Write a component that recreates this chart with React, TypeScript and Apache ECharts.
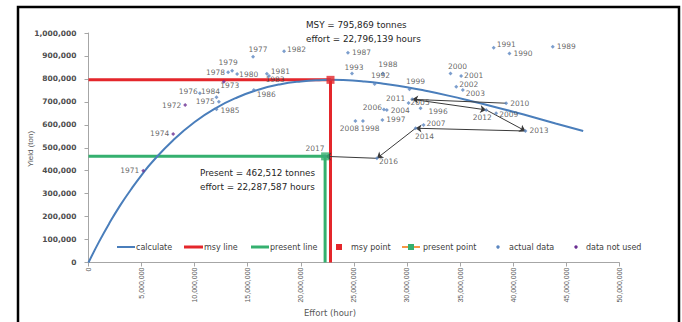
import React, { useEffect, useRef } from "react";
import * as echarts from "echarts";

// ---------- data ----------
const MSY_YIELD = 795869;
const MSY_EFFORT = 22796139;
const PRESENT_YIELD = 462512;
const PRESENT_EFFORT = 22287587;

// "calculate" curve (effort in hours, yield in tons)
const curveEffort = [0, 1e6, 2e6, 3e6, 4e6, 5e6, 6e6, 8e6, 10e6, 12e6, 14e6, 16e6, 18e6, 20e6, 22e6, 22.8e6, 24e6, 26e6, 28e6, 30e6, 32e6, 34e6, 36e6, 38e6, 40e6, 42e6, 44e6, 46.6e6];
const curveYield = [0, 91000, 174000, 250000, 318000, 381000, 438000, 534000, 612000, 673000, 719000, 753000, 776000, 789000, 795000, 795869, 795000, 789000, 778000, 764000, 746000, 726000, 704000, 681000, 657000, 632000, 606000, 573000];

// actual data
const actualYears = [1975, 1976, 1977, 1978, 1979, 1980, 1981, 1982, 1983, 1984, 1985, 1986, 1987, 1988, 1989, 1990, 1991, 1992, 1993, 1996, 1997, 1998, 1999, 2000, 2001, 2002, 2003, 2004, 2005, 2006, 2007, 2008, 2009, 2010, 2011, 2012, 2013, 2014, 2016, 2017];
const actualEffort = [12.28e6, 10.49e6, 15.5e6, 13.15e6, 13.53e6, 14.0e6, 16.8e6, 18.42e6, 17.0e6, 12.06e6, 12.06e6, 15.57e6, 24.44e6, 27.73e6, 43.73e6, 39.65e6, 38.17e6, 26.95e6, 24.82e6, 31.28e6, 27.68e6, 25.85e6, 30.24e6, 34.1e6, 35.1e6, 34.64e6, 35.26e6, 28.1e6, 30.15e6, 27.83e6, 31.56e6, 25.14e6, 38.4e6, 39.34e6, 30.49e6, 37.46e6, 41.16e6, 30.81e6, 27.17e6, 22287587];
const actualYield = [700600, 737000, 897000, 829000, 836000, 821000, 822000, 921000, 813000, 720000, 668000, 752000, 914000, 824000, 940000, 911000, 936000, 778000, 824000, 672000, 621000, 617000, 755000, 824000, 813000, 766000, 752000, 664000, 695000, 667000, 599000, 617000, 650000, 694000, 711000, 665000, 573000, 585000, 454000, 462512];

// data not used
const unusedYears = [1971, 1972, 1973, 1974];
const unusedEffort = [5.16e6, 9.11e6, 12.75e6, 7.98e6];
const unusedYield = [400000, 686000, 788000, 560000];

// trajectory of recent years (arrows)
const arrowYears = [2010, 2011, 2012, 2013, 2014, 2016, 2017];

// ---------- styling (label placement per year) ----------
const labelPlace: Record<number, { position: string; offset?: number[] }> = {
  1971: { position: "left" }, 1972: { position: "left" }, 1973: { position: "bottom", offset: [6, -4] }, 1974: { position: "left" },
  1975: { position: "left", offset: [0, 0] }, 1976: { position: "left", offset: [2, -2] }, 1977: { position: "top", offset: [5, 1] },
  1978: { position: "left", offset: [1, 0] }, 1979: { position: "top", offset: [-4, 0] }, 1980: { position: "right", offset: [-2, 0] },
  1981: { position: "right", offset: [0, -2] }, 1982: { position: "right", offset: [-1, -2] }, 1983: { position: "bottom", offset: [6, -4] },
  1984: { position: "top", offset: [-6, 2] }, 1985: { position: "right", offset: [0, 1] }, 1986: { position: "right", offset: [-1, 5] },
  1987: { position: "right" }, 1988: { position: "top", offset: [5, -1] }, 1989: { position: "right" }, 1990: { position: "right" },
  1991: { position: "right", offset: [-1, -3] }, 1992: { position: "top", offset: [6, 0] }, 1993: { position: "top", offset: [2, 2] },
  1996: { position: "right", offset: [4, 3] }, 1997: { position: "right" }, 1998: { position: "bottom", offset: [7, 0] },
  1999: { position: "top", offset: [6, 0] }, 2000: { position: "top", offset: [7, 1] }, 2001: { position: "right", offset: [-1, 0] },
  2002: { position: "right", offset: [-1, -2] }, 2003: { position: "right", offset: [-1, 4] }, 2004: { position: "right", offset: [0, 0] },
  2005: { position: "right", offset: [-2, 0] }, 2006: { position: "left", offset: [2, -2] }, 2007: { position: "right", offset: [-1, -2] },
  2008: { position: "bottom", offset: [-6, 0] }, 2009: { position: "right", offset: [-1, 1] }, 2010: { position: "right" },
  2011: { position: "left", offset: [-3, -1] }, 2012: { position: "bottom", offset: [-4, 0] }, 2013: { position: "right" },
  2014: { position: "bottom", offset: [9, 0] }, 2016: { position: "right", offset: [-2, 3] }, 2017: { position: "top", offset: [-10, 0] },
};

const BLUE = "#4a7ebb";
const RED = "#e4262b";
const GREEN = "#35b06f";
const PURPLE = "#6a2e92";
const ORANGE = "#f79646";
const TXT = "#404040";
const FONT = "DejaVu Sans";

const fmt = (v: number) => Math.round(v).toLocaleString("en-US");

function pointsOf(years: number[], eff: number[], yl: number[]) {
  return years.map((yr, i) => {
    const p = labelPlace[yr] || { position: "right" };
    return {
      name: String(yr),
      value: [eff[i], yl[i]],
      label: { position: p.position, offset: p.offset || [0, 0] },
    };
  });
}

function buildOption() {
  const curve = curveEffort.map((e, i) => [e, curveYield[i]]);
  const lookup: Record<number, number[]> = {};
  actualYears.forEach((yr, i) => (lookup[yr] = [actualEffort[i], actualYield[i]]));
  const arrows = [] as any[];
  for (let i = 0; i < arrowYears.length - 1; i++) {
    arrows.push({ coords: [lookup[arrowYears[i]], lookup[arrowYears[i + 1]]] });
  }
  const yearLabel = {
    show: true,
    formatter: "{b}",
    fontFamily: FONT,
    fontSize: 7.5,
    color: TXT,
    distance: 2,
  };

  const legendY = 247;
  const legendText = (x: number, t: string) => ({
    type: "text",
    x,
    y: legendY,
    style: { text: t, fill: TXT, font: `8px "${FONT}"`, textVerticalAlign: "middle", textAlign: "left" },
  });
  const legendLine = (x1: number, x2: number, color: string, w: number) => ({
    type: "line",
    shape: { x1, y1: legendY, x2, y2: legendY },
    style: { stroke: color, lineWidth: w },
  });

  return {
    animation: false,
    backgroundColor: "#ffffff",
    grid: { left: 88.5, right: 62.7, top: 33, bottom: 59.5, containLabel: false },
    xAxis: {
      type: "value",
      min: 0,
      max: 50000000,
      interval: 5000000,
      splitLine: { show: false },
      axisLine: { show: true, lineStyle: { color: "#a6a6a6", width: 1 } },
      axisTick: { show: true, length: 4, lineStyle: { color: "#a6a6a6" } },
      axisLabel: {
        rotate: 90,
        margin: 5,
        fontFamily: "Liberation Sans",
        fontSize: 7,
        color: "#595959",
        formatter: (v: number) => fmt(v),
      },
    },
    yAxis: {
      type: "value",
      min: 0,
      max: 1000000,
      interval: 100000,
      splitLine: { show: false },
      axisLine: { show: true, lineStyle: { color: "#a6a6a6", width: 1 } },
      axisTick: { show: true, length: 4, lineStyle: { color: "#a6a6a6" } },
      axisLabel: {
        margin: 12,
        fontFamily: FONT,
        fontSize: 7.5,
        fontWeight: "bold",
        color: "#4d4d4d",
        formatter: (v: number) => fmt(v),
      },
    },
    series: [
      {
        name: "calculate",
        type: "line",
        data: curve,
        smooth: true,
        showSymbol: false,
        lineStyle: { color: BLUE, width: 2 },
        z: 3,
      },
      {
        name: "present line",
        type: "line",
        data: [[0, PRESENT_YIELD], [PRESENT_EFFORT, PRESENT_YIELD], [PRESENT_EFFORT, 0]],
        showSymbol: false,
        lineStyle: { color: GREEN, width: 3 },
        z: 2,
      },
      {
        name: "msy line",
        type: "line",
        data: [[0, MSY_YIELD], [MSY_EFFORT, MSY_YIELD], [MSY_EFFORT, 0]],
        showSymbol: false,
        lineStyle: { color: RED, width: 3 },
        z: 2,
      },
      {
        name: "trajectory",
        type: "lines",
        coordinateSystem: "cartesian2d",
        data: arrows,
        symbol: ["none", "arrow"],
        symbolSize: 6,
        lineStyle: { color: "#3a3a3a", width: 1, opacity: 1 },
        z: 4,
      },
      {
        name: "actual data",
        type: "scatter",
        symbol: "diamond",
        symbolSize: 4,
        itemStyle: { color: "#5b86c0" },
        label: yearLabel,
        data: pointsOf(actualYears, actualEffort, actualYield),
        z: 5,
      },
      {
        name: "data not used",
        type: "scatter",
        symbol: "diamond",
        symbolSize: 4,
        itemStyle: { color: PURPLE },
        label: yearLabel,
        data: pointsOf(unusedYears, unusedEffort, unusedYield),
        z: 5,
      },
      {
        name: "msy point",
        type: "scatter",
        symbol: "rect",
        symbolSize: 8,
        itemStyle: { color: RED },
        data: [[MSY_EFFORT, MSY_YIELD]],
        z: 6,
      },
      {
        name: "present point",
        type: "scatter",
        symbol: "rect",
        symbolSize: 8,
        itemStyle: { color: GREEN },
        data: [[PRESENT_EFFORT, PRESENT_YIELD]],
        z: 6,
      },
    ],
    graphic: [
      {
        type: "rect",
        shape: { x: 18, y: 7, width: 661, height: 340 },
        style: { fill: "none", stroke: "#000000", lineWidth: 2.5 },
        z: 100,
      },
      {
        type: "text",
        x: 306,
        y: 24.5,
        style: { text: `MSY = ${fmt(MSY_YIELD)} tonnes`, fill: "#262626", font: `8.8px "${FONT}"`, textVerticalAlign: "middle" },
      },
      {
        type: "text",
        x: 306,
        y: 39,
        style: { text: `effort = ${fmt(MSY_EFFORT)} hours`, fill: "#262626", font: `8.8px "${FONT}"`, textVerticalAlign: "middle" },
      },
      {
        type: "text",
        x: 200,
        y: 172.5,
        style: { text: `Present = ${fmt(PRESENT_YIELD)} tonnes`, fill: "#262626", font: `8.8px "${FONT}"`, textVerticalAlign: "middle" },
      },
      {
        type: "text",
        x: 200,
        y: 186.5,
        style: { text: `effort = ${fmt(PRESENT_EFFORT)} hours`, fill: "#262626", font: `8.8px "${FONT}"`, textVerticalAlign: "middle" },
      },
      {
        type: "text",
        x: 30,
        y: 149,
        rotation: Math.PI / 2,
        style: { text: "Yield (ton)", fill: "#595959", font: `8px "Liberation Sans"`, textAlign: "center", textVerticalAlign: "middle" },
      },
      {
        type: "text",
        x: 330,
        y: 312.5,
        style: { text: "Effort (hour)", fill: "#595959", font: `8.5px "DejaVu Sans"`, textAlign: "center", textVerticalAlign: "middle" },
      },
      // legend
      legendLine(117, 135, BLUE, 2),
      legendText(136, "calculate"),
      legendLine(184, 203, RED, 3),
      legendText(204, "msy line"),
      legendLine(251, 269, GREEN, 3),
      legendText(270, "present line"),
      { type: "rect", shape: { x: 336, y: legendY - 3, width: 6, height: 6 }, style: { fill: RED } },
      legendText(351, "msy point"),
      legendLine(402, 420, ORANGE, 2),
      { type: "rect", shape: { x: 408, y: legendY - 3, width: 6, height: 6 }, style: { fill: GREEN } },
      legendText(423, "present point"),
      { type: "circle", shape: { cx: 498, cy: legendY, r: 1.7 }, style: { fill: "#5b86c0" } },
      legendText(509, "actual data"),
      { type: "circle", shape: { cx: 576, cy: legendY, r: 1.7 }, style: { fill: PURPLE } },
      legendText(586, "data not used"),
    ],
  };
}

export default function App() {
  const ref = useRef<HTMLDivElement>(null);
  useEffect(() => {
    if (!ref.current) return;
    const chart = echarts.init(ref.current, null, { renderer: "svg" });
    chart.setOption(buildOption() as any);
    return () => chart.dispose();
  }, []);
  return (
    <div
      ref={ref}
      style={{ position: "fixed", left: 0, top: 0, width: 682, height: 322, background: "#fff" }}
    />
  );
}
